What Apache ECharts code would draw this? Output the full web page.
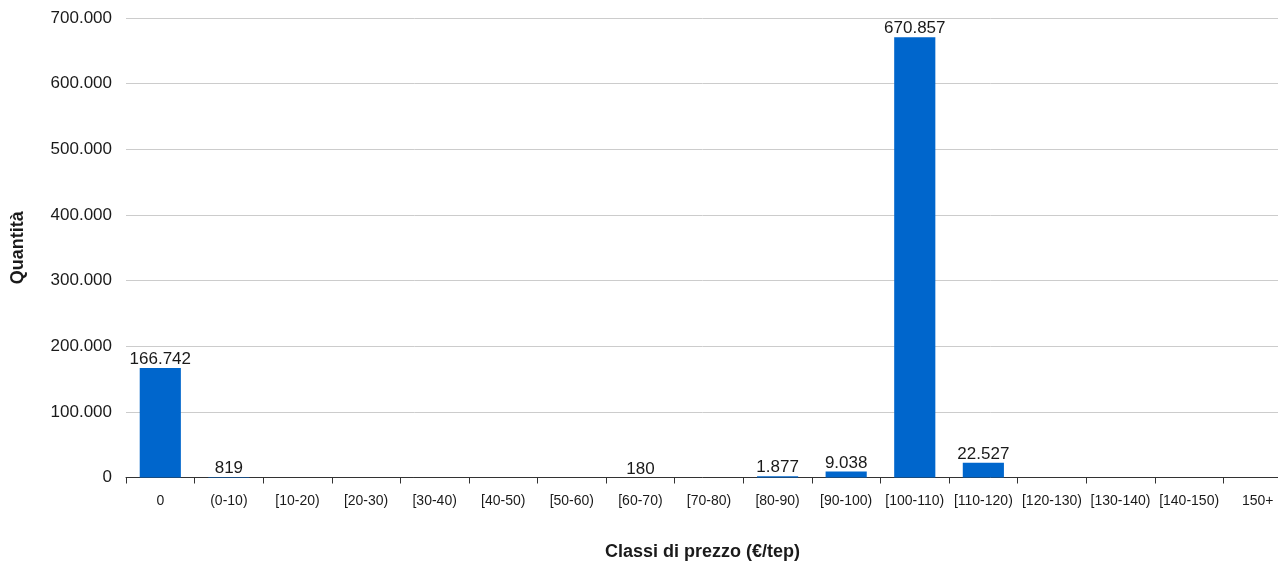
<!DOCTYPE html>
<html>
<head>
<meta charset="utf-8">
<script src="https://cdn.jsdelivr.net/npm/echarts@6/dist/echarts.min.js"></script>
<style>
  html, body { margin: 0; padding: 0; background: #fff; }
  #chart { width: 1278px; height: 563px; }
</style>
</head>
<body>
<div id="chart"></div>
<script>
// Price classes (€/tep) and quantity traded in each class
const categories = ['0', '(0-10)', '[10-20)', '[20-30)', '[30-40)', '[40-50)', '[50-60)', '[60-70)',
  '[70-80)', '[80-90)', '[90-100)', '[100-110)', '[110-120)', '[120-130)', '[130-140)', '[140-150)', '150+'];
const quantities = [166742, 819, null, null, null, null, null, 180,
  null, 1877, 9038, 670857, 22527, null, null, null, null];
const yTicks = { min: 0, max: 700000, interval: 100000 };

// Italian thousands separator
function fmt(v) {
  return String(Math.round(v)).replace(/\B(?=(\d{3})+(?!\d))/g, '.');
}

const font = 'Liberation Sans, Arial, sans-serif';
const chart = echarts.init(document.getElementById('chart'));
chart.setOption({
  animation: false,
  backgroundColor: '#ffffff',
  textStyle: { fontFamily: font },
  grid: { left: 126, top: 18, width: 1166, bottom: 85.5, containLabel: false, outerBoundsMode: 'none' },
  xAxis: {
    type: 'category',
    data: categories,
    axisLine: { lineStyle: { color: '#333', width: 1 } },
    axisTick: { show: true, length: 6, alignWithLabel: false, lineStyle: { color: '#333' } },
    axisLabel: { interval: 0, fontSize: 14, color: '#1a1a1a', margin: 17, fontFamily: font }
  },
  yAxis: {
    type: 'value',
    min: yTicks.min,
    max: yTicks.max,
    interval: yTicks.interval,
    name: 'Quantità',
    nameLocation: 'middle',
    nameGap: 99,
    nameRotate: 90,
    nameTextStyle: { fontSize: 18, fontWeight: 'bold', color: '#1a1a1a', fontFamily: font },
    axisLine: { show: false },
    axisTick: { show: false },
    axisLabel: { fontSize: 17, color: '#1a1a1a', margin: 14, fontFamily: font, formatter: fmt },
    splitLine: { lineStyle: { color: '#cccccc', width: 1 } }
  },
  graphic: [{
    type: 'text',
    x: 702.5,
    y: 552,
    style: {
      text: 'Classi di prezzo (€/tep)',
      align: 'center',
      verticalAlign: 'middle',
      fill: '#1a1a1a',
      font: 'bold 18px Liberation Sans, Arial, sans-serif'
    }
  }],
  series: [{
    type: 'bar',
    data: quantities,
    barWidth: '60%',
    itemStyle: { color: '#0066cc' },
    label: {
      show: true,
      position: 'top',
      distance: 0,
      fontSize: 17,
      color: '#1a1a1a',
      fontFamily: font,
      formatter: p => (p.value == null ? '' : fmt(p.value))
    }
  }]
});
</script>
</body>
</html>
